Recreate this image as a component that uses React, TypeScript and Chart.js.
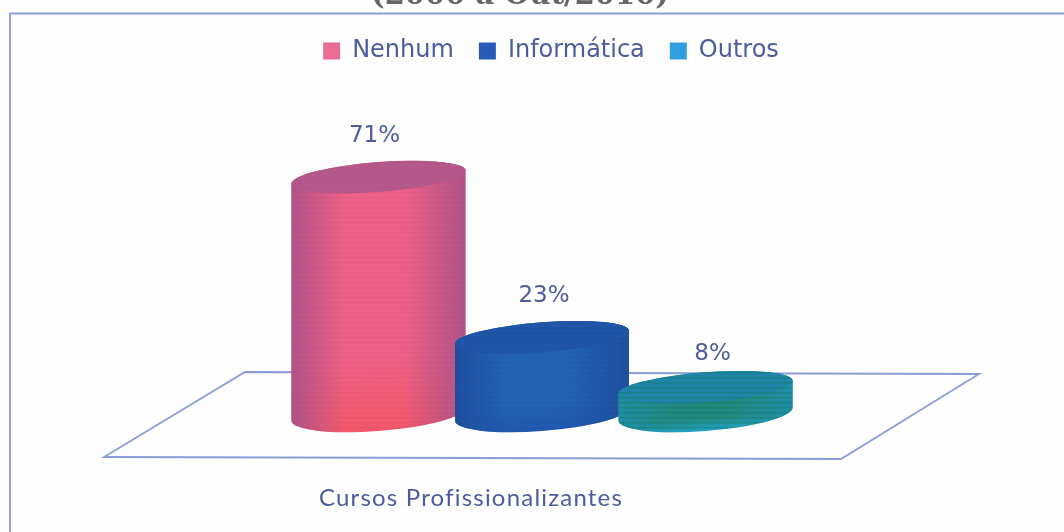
import React, { useEffect, useRef } from "react";
import { Chart, registerables } from "chart.js";

Chart.register(...registerables);

const categories = ["Cursos Profissionalizantes"];
const seriesNames = ["Nenhum", "Informática", "Outros"];
const seriesValues = [71, 23, 8];
const legendColors = ["#ea6c92", "#2b5bb8", "#2f9fe0"];
const titleText = "(2000 a Out/2010)";

const INK = "#4d5c9c";
const labelNudges = [
  { dx: -4, dy: 0 },
  { dx: 2, dy: 0 },
  { dx: 7, dy: 8 },
];
const bodyStyles = [
  { edge: "#ad5489", mid: "#ee6088", low: "#f2586a", top: "#b4598c", band: "rgba(190,60,90,0.13)" },
  { edge: "#1f4f9e", mid: "#2363b6", low: "#2158ae", top: "#2055a8", band: "rgba(20,60,130,0.08)" },
  { edge: "#1f8fa8", mid: "#1f8a80", low: "#22a2c8", top: "#1d86a8", band: "rgba(20,110,70,0.30)" },
];
const SKEW = -0.075;

const cylinders = {
  id: "cylinders",
  beforeDatasetDraw() {
    return false;
  },
  beforeDatasetsDraw(chart: any) {
    const { ctx, scales } = chart;
    const base = scales.y.getPixelForValue(0);
    const c = scales.x.getPixelForValue(0);
    ctx.save();
    ctx.strokeStyle = "#8c9cd8";
    ctx.lineWidth = 1.8;
    ctx.beginPath();
    ctx.moveTo(c - 297, base - 42);
    ctx.lineTo(c + 437, base - 40);
    ctx.lineTo(c + 299, base + 45);
    ctx.lineTo(c - 438, base + 43);
    ctx.closePath();
    ctx.stroke();
    ctx.restore();
  },
  afterDatasetsDraw(chart: any) {
    const { ctx, scales } = chart;
    chart.data.datasets.forEach((_: any, i: number) => {
      const el = chart.getDatasetMeta(i).data[0];
      const style = bodyStyles[i];
      const rx = el.width / 2;
      const yTop = el.y;
      const yBase = el.base;
      const ryTop = 15;
      const ryBase = 17;
      ctx.save();
      ctx.translate(el.x, 0);
      ctx.transform(1, SKEW, 0, 1, 0, 0);
      const path = new Path2D();
      path.ellipse(0, yBase, rx, ryBase, 0, 0, Math.PI);
      path.lineTo(-rx, yTop);
      path.ellipse(0, yTop, rx, ryTop, 0, Math.PI, 2 * Math.PI);
      path.closePath();
      const v = ctx.createLinearGradient(0, yTop, 0, yBase + ryBase);
      v.addColorStop(0, style.mid);
      v.addColorStop(0.7, style.mid);
      v.addColorStop(1, style.low);
      ctx.fillStyle = v;
      ctx.fill(path);
      const h = ctx.createLinearGradient(-rx, 0, rx, 0);
      h.addColorStop(0, style.edge);
      h.addColorStop(0.3, style.edge + "00");
      h.addColorStop(0.65, style.edge + "00");
      h.addColorStop(1, style.edge);
      ctx.fillStyle = h;
      ctx.fill(path);
      ctx.beginPath();
      ctx.ellipse(0, yTop, rx, ryTop, 0, 0, 2 * Math.PI);
      ctx.fillStyle = style.top;
      ctx.fill();
      // horizontal scan-line banding of the printed original
      const whole = new Path2D(path);
      whole.ellipse(0, yTop, rx, ryTop, 0, 0, 2 * Math.PI);
      ctx.clip(whole);
      ctx.setTransform(1, 0, 0, 1, 0, 0);
      ctx.fillStyle = style.band;
      for (let y = yTop - ryTop - 20; y < yBase + ryBase + 20; y += 5) {
        ctx.fillRect(el.x - rx, Math.round(y), 2 * rx, 1.5);
      }
      ctx.restore();
    });
    ctx.save();
    ctx.font = '23px "DejaVu Sans"';
    ctx.fillStyle = INK;
    ctx.textAlign = "center";
    ctx.textBaseline = "middle";
    chart.data.datasets.forEach((ds: any, i: number) => {
      const el = chart.getDatasetMeta(i).data[0];
      ctx.fillText(
        ds.data[0] + "%",
        el.x + labelNudges[i].dx,
        el.y - 41 + labelNudges[i].dy
      );
    });
    ctx.font = '24px "Lato"';
    (ctx as any).letterSpacing = "1.2px";
    ctx.fillText(categories[0], scales.x.getPixelForValue(0) - 71, 498);
    (ctx as any).letterSpacing = "0px";
    ctx.font = 'bold 29px "DejaVu Serif"';
    ctx.fillStyle = "#666666";
    ctx.textBaseline = "alphabetic";
    ctx.fillText(titleText, 520, 4);
    ctx.strokeStyle = "#8c9cd8";
    ctx.lineWidth = 1.8;
    ctx.beginPath();
    ctx.moveTo(10, 532);
    ctx.lineTo(10, 13.5);
    ctx.lineTo(1064, 13.5);
    ctx.stroke();
    ctx.restore();
  },
};

export default function App() {
  const ref = useRef<HTMLCanvasElement>(null);
  useEffect(() => {
    const chart = new Chart(ref.current as HTMLCanvasElement, {
      type: "bar",
      data: {
        labels: categories,
        datasets: seriesNames.map((name, i) => ({
          label: name,
          data: [seriesValues[i]],
          backgroundColor: legendColors[i],
          borderWidth: 0,
          barPercentage: 1.064,
          categoryPercentage: 0.531,
        })),
      },
      options: {
        animation: false,
        responsive: false,
        layout: { padding: { left: 80, right: 42, top: 14, bottom: 118 } },
        plugins: {
          title: { display: false },
          tooltip: { enabled: false },
          legend: {
            display: true,
            position: "top",
            labels: {
              boxWidth: 17,
              boxHeight: 17,
              padding: 25,
              color: INK,
              font: { family: "DejaVu Sans", size: 24 },
            },
          },
        },
        scales: {
          x: { display: false },
          y: {
            position: "right",
            min: 0,
            max: 102.2,
            ticks: { display: false },
            grid: { display: false },
            border: { display: false },
            afterFit(scale: any) {
              scale.width = 18;
            },
          },
        },
      },
      plugins: [cylinders],
    } as any);
    return () => chart.destroy();
  }, []);
  return (
    <canvas
      ref={ref}
      width={1064}
      height={532}
      style={{
        position: "absolute",
        left: 0,
        top: 0,
        background: "#fefefe",
        filter: "blur(0.6px)",
      }}
    />
  );
}
